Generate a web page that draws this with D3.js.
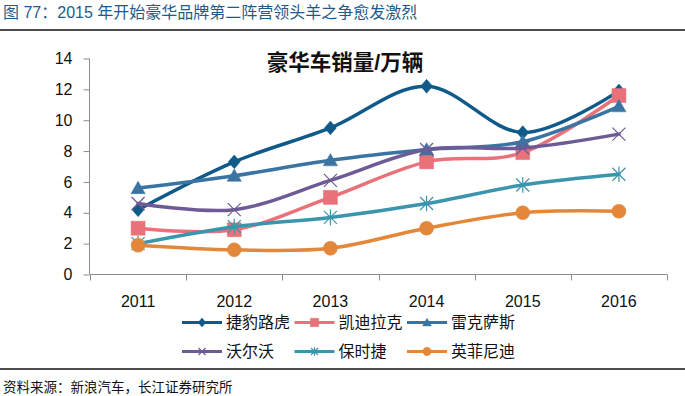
<!DOCTYPE html>
<html><head><meta charset="utf-8">
<script src="https://cdn.jsdelivr.net/npm/d3@7"></script>
<style>
html,body{margin:0;padding:0;background:#fff;}
svg{display:block;font-family:"Liberation Sans","Noto Sans CJK SC",Arial,sans-serif;}
</style></head>
<body>
<svg id="c" width="685" height="396"></svg>
<script>
const years = ["2011","2012","2013","2014","2015","2016"];
const yTicks = [0,2,4,6,8,10,12,14];
const seriesNames = ["捷豹路虎","凯迪拉克","雷克萨斯","沃尔沃","保时捷","英菲尼迪"];
const jaguar   = [4.2, 7.3, 9.5, 12.2, 9.2, 11.9];
const cadillac = [3.0, 2.9, 5.0, 7.3, 7.9, 11.6];
const lexus    = [5.6, 6.4, 7.4, 8.1, 8.6, 10.9];
const volvo    = [4.6, 4.2, 6.1, 8.1, 8.2, 9.1];
const porsche  = [2.0, 3.1, 3.7, 4.6, 5.8, 6.5];
const infiniti = [1.9, 1.6, 1.7, 3.0, 4.0, 4.1];
const seriesValues = [jaguar, cadillac, lexus, volvo, porsche, infiniti];
const colors = ["#0f5a89","#e8717a","#3a74a3","#6e5a95","#3b95ad","#e3883b"];
const markers = ["diamond","square","triangle","x","star","circle"];

const svg = d3.select("#c");
const W = 685;

// header
svg.append("text").attr("x",3).attr("y",18).attr("font-size",16).attr("fill","#1d5b8b")
  .text("图 77：2015 年开始豪华品牌第二阵营领头羊之争愈发激烈");
svg.append("line").attr("x1",0).attr("x2",W).attr("y1",30).attr("y2",30).attr("stroke","#111").attr("stroke-width",1.5);
svg.append("line").attr("x1",0).attr("x2",W).attr("y1",369).attr("y2",369).attr("stroke","#111").attr("stroke-width",1.5);
svg.append("text").attr("x",3).attr("y",392).attr("font-size",13.5).attr("fill","#111")
  .text("资料来源：新浪汽车，长江证券研究所");

// scales
const x = d3.scaleBand().domain(years).range([90,667]).padding(0);
const y = d3.scaleLinear().domain([0,14]).range([274.5,58.5]);
const cx = d => x(d) + x.bandwidth()/2;

// chart title
svg.append("text").attr("x",345).attr("y",70).attr("text-anchor","middle")
  .attr("font-size",21.5).attr("font-weight","bold").attr("fill","#111").text("豪华车销量/万辆");

// y axis
const ya = svg.append("g").attr("transform","translate(89.5,0)")
  .call(d3.axisLeft(y).tickValues(yTicks).tickSize(6).tickPadding(11).tickFormat(d3.format("d")));
ya.select(".domain").attr("stroke","#8c8c8c").attr("d","M0,"+y(14)+"V"+y(0));
ya.selectAll(".tick line").attr("stroke","#8c8c8c");
ya.selectAll("text").attr("font-size",16).attr("fill","#111").attr("font-family","Liberation Sans, Arial, sans-serif");

// x axis
const xa = svg.append("g").attr("transform","translate(0,274.5)")
  .call(d3.axisBottom(x).tickSize(0).tickPadding(21));
xa.select(".domain").attr("stroke","#8c8c8c").attr("d","M90,0H667");
xa.selectAll("text").attr("font-size",16).attr("fill","#111").attr("font-family","Liberation Sans, Arial, sans-serif");
const edges = years.map(d => x(d)).concat([x.range()[1]]);
xa.selectAll(".edge").data(edges).enter().append("line").attr("class","edge")
  .attr("x1",d=>Math.round(d)+0.5).attr("x2",d=>Math.round(d)+0.5).attr("y1",0).attr("y2",6).attr("stroke","#8c8c8c");

function markerPath(type, s){
  // s = scale factor (half size)
  switch(type){
    case "diamond": return `M0,${-s*1.1}L${s*0.95},0L0,${s*1.1}L${-s*0.95},0Z`;
    case "square": return `M${-s},${-s}H${s}V${s}H${-s}Z`;
    case "triangle": return `M0,${-s*1.05}L${s*1.1},${s*0.85}L${-s*1.1},${s*0.85}Z`;
    case "x": return `M${-s},${-s}L${s},${s}M${-s},${s}L${s},${-s}`;
    case "star": return `M${-s},${-s}L${s},${s}M${-s},${s}L${s},${-s}M0,${-s*1.2}V${s*1.2}`;
    case "circle": return d3.symbol(d3.symbolCircle, Math.PI*s*s)();
  }
}
function drawMarker(g, type, color, s){
  const p = g.append("path").attr("d", markerPath(type,s));
  if(type==="x"||type==="star"){
    p.attr("fill","none").attr("stroke",color).attr("stroke-width",1.2);
  } else {
    p.attr("fill",color).attr("stroke",color).attr("stroke-width",0.5);
  }
}

const line = d3.line().x((d,i)=>cx(years[i])).y(d=>y(d)).curve(d3.curveCardinal.tension(0));

seriesValues.forEach((vals,k)=>{
  const g = svg.append("g");
  g.append("path").attr("d", line(vals)).attr("fill","none").attr("stroke",colors[k])
    .attr("stroke-width",3.5).attr("stroke-linejoin","round").attr("stroke-linecap","round");
  const sz = {diamond:6.3, square:7, triangle:6.5, x:6.5, star:6.5, circle:7}[markers[k]];
  vals.forEach((v,i)=>{
    const mg = g.append("g").attr("transform",`translate(${cx(years[i])},${y(v)})`);
    drawMarker(mg, markers[k], colors[k], sz);
  });
});

// legend
const legX = [182, 294.5, 407];
const legY = [322.5, 351.5];
seriesNames.forEach((name,k)=>{
  const lx = legX[k%3], ly = legY[Math.floor(k/3)];
  const g = svg.append("g").attr("transform",`translate(${lx},${ly})`);
  g.append("line").attr("x1",0).attr("x2",40).attr("y1",0).attr("y2",0)
    .attr("stroke",colors[k]).attr("stroke-width",3);
  const mg = g.append("g").attr("transform","translate(20,0)");
  drawMarker(mg, markers[k], colors[k], {diamond:4, square:4.2, triangle:4, x:3.5, star:3.5, circle:4.2}[markers[k]]);
  g.append("text").attr("x",44).attr("y",0).attr("dy","0.36em").attr("font-size",16).attr("fill","#111").text(name);
});
</script>
</body></html>
